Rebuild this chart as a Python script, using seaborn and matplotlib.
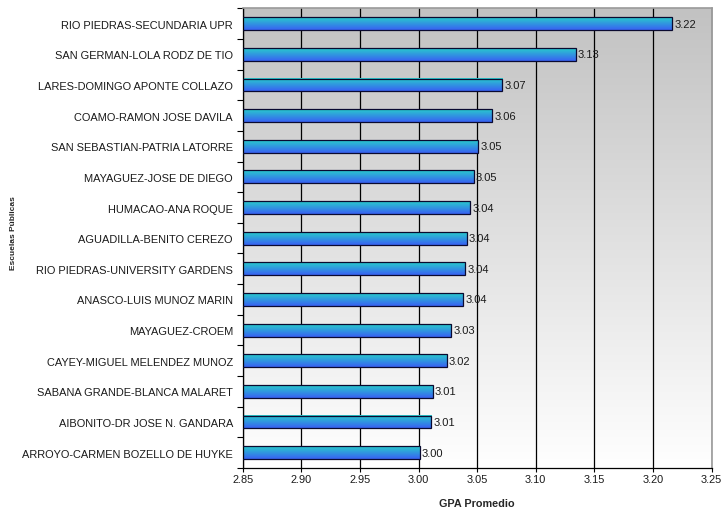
import numpy as np
import matplotlib
matplotlib.use("Agg")
import matplotlib.pyplot as plt
import seaborn as sns

schools = [
    "RIO PIEDRAS-SECUNDARIA UPR",
    "SAN GERMAN-LOLA RODZ DE TIO",
    "LARES-DOMINGO APONTE COLLAZO",
    "COAMO-RAMON JOSE DAVILA",
    "SAN SEBASTIAN-PATRIA LATORRE",
    "MAYAGUEZ-JOSE DE DIEGO",
    "HUMACAO-ANA ROQUE",
    "AGUADILLA-BENITO CEREZO",
    "RIO PIEDRAS-UNIVERSITY GARDENS",
    "ANASCO-LUIS MUNOZ MARIN",
    "MAYAGUEZ-CROEM",
    "CAYEY-MIGUEL MELENDEZ MUNOZ",
    "SABANA GRANDE-BLANCA MALARET",
    "AIBONITO-DR JOSE N. GANDARA",
    "ARROYO-CARMEN BOZELLO DE HUYKE",
]
gpa = [3.216, 3.134, 3.071, 3.063, 3.051, 3.047, 3.044, 3.041,
       3.040, 3.038, 3.028, 3.024, 3.012, 3.011, 3.001]
xticks = [2.85, 2.90, 2.95, 3.00, 3.05, 3.10, 3.15, 3.20, 3.25]

sns.set_style("white")
plt.rcParams["font.family"] = ["Liberation Sans", "DejaVu Sans"]

fig = plt.figure(figsize=(7.22, 5.10), dpi=100)
ax = fig.add_axes([0.3361, 0.0804, 0.6496, 0.9013])

sns.barplot(x=gpa, y=schools, orient="h", width=0.42, ax=ax,
            color="#3399dd", edgecolor="#0a0a30", linewidth=0.9)

ax.set_xlim(2.85, 3.25)
ylim = ax.get_ylim()

# gray-to-white background
bg = np.linspace(0.76, 1.0, 256).reshape(-1, 1)
bg = np.dstack([bg, bg, bg])
ax.imshow(bg, extent=(0, 1, 0, 1), transform=ax.transAxes, origin="upper",
          aspect="auto", zorder=0)

# gradient fill on bars: cyan on top, blue below
top = np.array([0.16, 0.80, 0.80])
bot = np.array([0.22, 0.38, 0.95])
t = np.linspace(0, 1, 64).reshape(-1, 1, 1)
grad = top * (1 - t) + bot * t
for p in ax.patches:
    x0 = p.get_x()
    x1 = x0 + p.get_width()
    y0 = p.get_y()
    y1 = y0 + p.get_height()
    p.set_facecolor("none")
    p.set_zorder(3)
    ax.imshow(grad, extent=(x0, x1, y1, y0), origin="upper",
              aspect="auto", zorder=2)

for i, v in enumerate(gpa):
    ax.text(v + 0.002, i, f"{v:.2f}", va="center", ha="left",
            fontsize=8, color="#1a1a1a", zorder=4)

ax.set_xlim(2.85, 3.25)
ax.set_ylim(ylim)
ax.set_xticks(xticks)
ax.set_xticklabels([f"{x:.2f}" for x in xticks], fontsize=7.9, color="#1a1a1a")
ax.set_yticks(np.arange(-0.5, len(schools), 1.0), minor=True)
ax.tick_params(axis="y", which="major", length=0, pad=7, labelsize=7.9,
               labelcolor="#1a1a1a")
ax.tick_params(axis="y", which="minor", length=4, width=0.8, color="black",
               direction="out", left=True)
ax.tick_params(axis="x", which="major", length=3, width=0.8, color="black",
               direction="out", bottom=True, pad=1.5)

ax.set_axisbelow(True)
ax.grid(axis="x", color="black", linewidth=0.9)
ax.grid(axis="y", visible=False)

for side in ["left", "bottom"]:
    ax.spines[side].set_color("black")
    ax.spines[side].set_linewidth(0.9)
for side in ["top", "right"]:
    ax.spines[side].set_color("#9a9a9a")
    ax.spines[side].set_linewidth(1.2)

ax.set_xlabel("")
ax.set_ylabel("")
fig.text(0.6607, 1 - 504 / 510, "GPA Promedio", fontsize=7.8, fontweight="bold",
         ha="center", va="center")
fig.text(14 / 722, 1 - 233 / 510, "Escuelas Públicas", fontsize=6,
         fontweight="bold", rotation=90, ha="center", va="center")

fig.savefig("out.png", dpi=100)
